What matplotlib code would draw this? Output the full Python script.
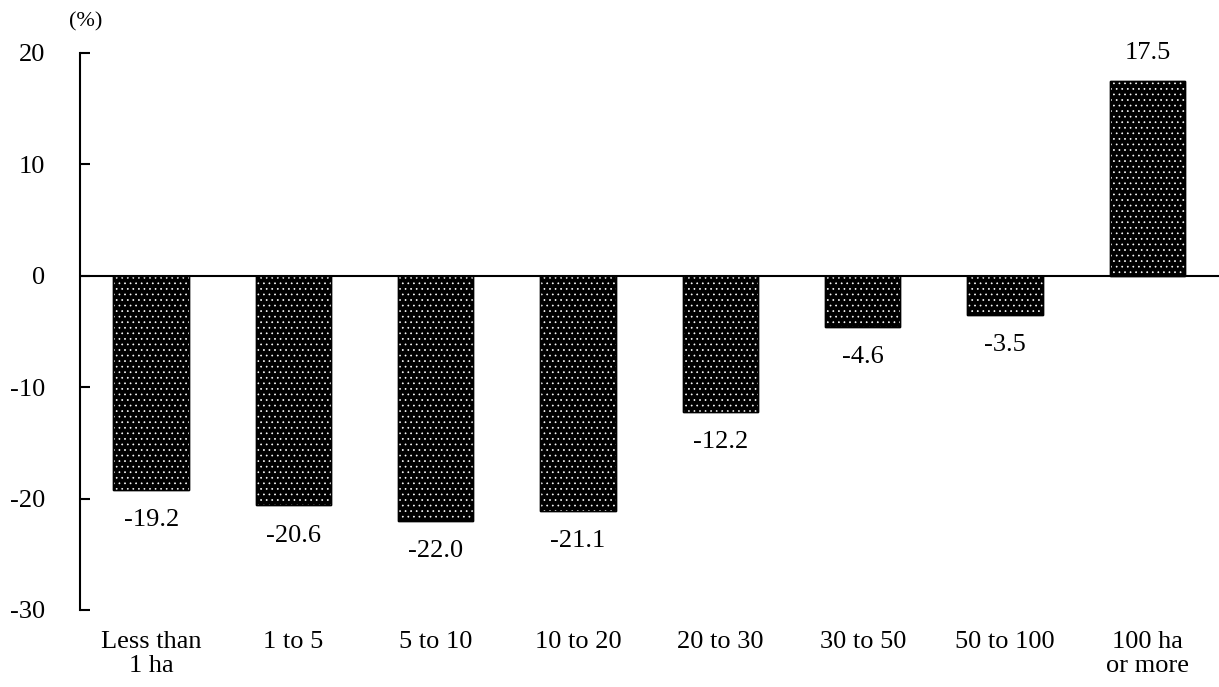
# Change in number of farms by cultivated area size
import matplotlib.pyplot as plt
import numpy as np

plt.rcParams['font.family'] = ['Liberation Serif', 'DejaVu Serif']
plt.rcParams['axes.unicode_minus'] = False

sizes = ['Less than\n1 ha', '1 to 5', '5 to 10', '10 to 20', '20 to 30',
         '30 to 50', '50 to 100', '100 ha\nor more']
change = [-19.2, -20.6, -22.0, -21.1, -12.2, -4.6, -3.5, 17.5]
yticks = [-30, -20, -10, 0, 10, 20]

fig = plt.figure(figsize=(12.19, 6.87), dpi=100)
ax = fig.add_axes([0.0656, 0.1121, 0.934, 0.8108])

ind = np.arange(len(sizes))
width = 0.53

# black bars with a white dotted hatch on top
ax.bar(ind, change, width, color='black', edgecolor='black', linewidth=1)
plt.rcParams['hatch.linewidth'] = 0.5
ax.bar(ind, change, width, color='none', edgecolor='white', hatch='...', linewidth=0)
ax.bar(ind, change, width, color='none', edgecolor='black', linewidth=1)

for x, v in zip(ind, change):
    if v >= 0:
        ax.annotate(f'{v:.1f}', (x, v), xytext=(0, 12), textcoords='offset points',
                    ha='center', va='bottom', fontsize=19)
    else:
        ax.annotate(f'{v:.1f}', (x, v), xytext=(0, -14), textcoords='offset points',
                    ha='center', va='top', fontsize=19)

ax.axhline(0, color='black', linewidth=1.5)

ax.set_xlim(-0.5, len(sizes) - 0.5)
ax.set_ylim(-30, 20)
ax.set_yticks(yticks)
ax.set_xticks(ind)
ax.set_xticklabels(sizes, fontsize=19, linespacing=1.15)
ax.tick_params(axis='x', length=0, pad=15)
ax.tick_params(axis='y', direction='in', length=7, width=1.5, pad=25, labelsize=19)

for side in ['top', 'right', 'bottom']:
    ax.spines[side].set_visible(False)
ax.spines['left'].set_linewidth(1.5)

fig.text(0.0705, 0.968, '(%)', ha='center', va='center', fontsize=16)

fig.savefig('out.png', dpi=100)
